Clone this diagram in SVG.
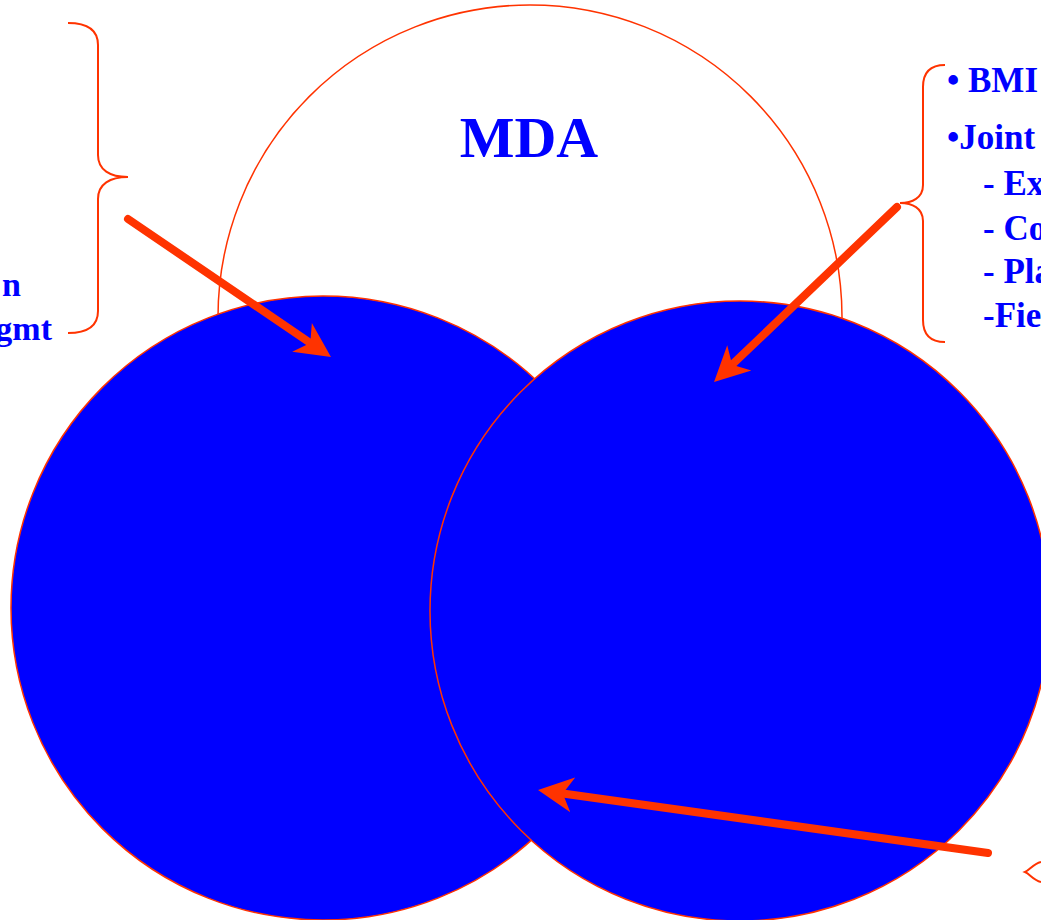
<svg xmlns="http://www.w3.org/2000/svg" width="1041" height="920" viewBox="0 0 1041 920">
<defs>
<style>
.ring{fill:#FFFFFF;stroke:#FF3300;stroke-width:1.5}
.blue{fill:#0000FF;stroke:#FF3300;stroke-width:1.5}
.brace{fill:none;stroke:#FF3300;stroke-width:2}
.lbl{font-family:"Liberation Serif","Times New Roman",serif;font-weight:bold;fill:#0000FF}
.arrow{stroke:#FF3300;stroke-width:8;stroke-linecap:round;fill:none;marker-end:url(#head)}
</style>
<marker id="head" viewBox="0 -20 40 40" refX="10" refY="0" markerWidth="40" markerHeight="40" markerUnits="userSpaceOnUse" orient="auto">
<path d="M0,-17.5 L35,0 L0,17.5 L10,0 Z" fill="#FF3300"/>
</marker>
</defs>
<rect width="1041" height="920" fill="#FFFFFF"/>
<g id="mda">
<circle class="ring" cx="530" cy="317" r="312"/>
<text class="lbl" x="529" y="157" font-size="58" text-anchor="middle">MDA</text>
</g>
<g id="left-circle">
<circle class="blue" cx="323" cy="608" r="312"/>
</g>
<g id="right-circle">
<circle class="blue" cx="740" cy="611" r="310"/>
</g>
<g id="left-label">
<path class="brace" d="M68,23 C88,23 98,30 98,45 L98,155 C98,170 110,177 128,177 C110,177 98,184 98,199 L98,311 C98,326 88,333 68,333"/>
<text class="lbl" x="21" y="296" font-size="34" text-anchor="end">n</text>
<text class="lbl" x="52" y="340" font-size="34" text-anchor="end">gmt</text>
</g>
<g id="right-label">
<path class="brace" d="M945,65 C930,65 923,72 923,87 L923,185 C923,198 912,203 900,203 C912,203 923,208 923,221 L923,320 C923,335 930,342 945,342"/>
<text class="lbl" font-size="35">
<tspan x="947" y="92">• BMI</tspan>
<tspan x="947" y="149">•Joint</tspan>
<tspan x="983" y="195">- Ex</tspan>
<tspan x="983" y="240">- Co</tspan>
<tspan x="983" y="283">- Pla</tspan>
<tspan x="983" y="327">-Fie</tspan>
</text>
</g>
<g id="bottom-label">
<path class="brace" d="M1041,862 C1033,864 1030,870 1025,872 C1030,874 1033,880 1041,882"/>
</g>
<g id="connectors">
<line class="arrow" x1="128" y1="219" x2="310.3" y2="343"/>
<line class="arrow" x1="897" y1="207" x2="732.1" y2="364.7"/>
<line class="arrow" x1="988" y1="853" x2="562.8" y2="793.5"/>
</g>
</svg>
